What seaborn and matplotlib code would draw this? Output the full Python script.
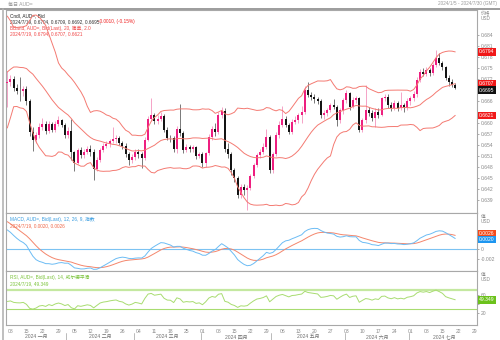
import numpy as np
import pandas as pd
import matplotlib
matplotlib.use("Agg")
import matplotlib.pyplot as plt
import matplotlib.transforms as mtransforms
import seaborn as sns

sns.set_theme(style="white")
plt.rcParams['font.family'] = ['Liberation Sans', 'Noto Sans CJK SC']

# Closes before the window (Nov 2023 - Jan 4 2024), only used to seed the indicators
warmup_close = [6505, 6430, 6410, 6372, 6360, 6370, 6525, 6500, 6483, 6545,
                6560, 6557, 6545, 6555, 6580, 6620, 6647, 6660, 6609, 6663,
                6612, 6565, 6555, 6588, 6566, 6570, 6572, 6685, 6712, 6702,
                6710, 6741, 6697, 6797, 6805, 6808, 6815, 6848, 6832, 6812,
                6812, 6738, 6705, 6708]

# Daily AUD= bid, 2024/1/5 - 2024/7/19, in pips (1e-4)
close_pips = [6712, 6720, 6695, 6688, 6686, 6692, 6660, 6575, 6555, 6567,
              6590, 6596, 6578, 6598, 6580, 6598, 6608, 6594, 6568, 6578,
              6520, 6492, 6526, 6514, 6522, 6530, 6520, 6475, 6500, 6526,
              6537, 6542, 6550, 6556, 6560, 6545, 6538, 6515, 6500, 6508,
              6522, 6515, 6505, 6555, 6612, 6622, 6605, 6612, 6620, 6580,
              6560, 6558, 6530, 6585, 6572, 6527, 6535, 6530, 6534, 6510,
              6515, 6490, 6518, 6563, 6585, 6576, 6622, 6632, 6530, 6515,
              6472, 6450, 6405, 6425, 6418, 6424, 6455, 6485, 6512, 6521,
              6535, 6562, 6472, 6515, 6567, 6595, 6612, 6594, 6576, 6603,
              6608, 6621, 6631, 6690, 6676, 6670, 6665, 6660, 6621, 6626,
              6635, 6649, 6645, 6608, 6635, 6662, 6681, 6644, 6662, 6668,
              6581, 6608, 6635, 6628, 6613, 6630, 6622, 6667, 6672, 6650,
              6640, 6654, 6640, 6648, 6640, 6660, 6667, 6678, 6717, 6740,
              6735, 6745, 6737, 6758, 6776, 6765, 6752, 6724, 6713, 6704,
              6695]
high_pips = [6742, 6732, 6728, 6706, 6726, 6702, 6700, 6665, 6590, 6575,
             6600, 6614, 6605, 6606, 6602, 6606, 6620, 6612, 6600, 6590,
             6610, 6525, 6532, 6535, 6530, 6537, 6540, 6528, 6508, 6532,
             6545, 6550, 6556, 6590, 6568, 6565, 6552, 6545, 6522, 6515,
             6528, 6530, 6520, 6562, 6620, 6668, 6628, 6622, 6630, 6625,
             6588, 6568, 6565, 6592, 6652, 6578, 6542, 6540, 6540, 6538,
             6522, 6520, 6522, 6570, 6592, 6600, 6630, 6645, 6640, 6545,
             6520, 6478, 6455, 6435, 6435, 6432, 6462, 6492, 6518, 6530,
             6545, 6585, 6568, 6522, 6575, 6605, 6646, 6618, 6600, 6610,
             6620, 6628, 6646, 6700, 6712, 6685, 6678, 6670, 6665, 6635,
             6642, 6655, 6665, 6650, 6642, 6668, 6690, 6685, 6670, 6675,
             6672, 6615, 6704, 6645, 6635, 6640, 6640, 6672, 6680, 6678,
             6658, 6662, 6660, 6685, 6655, 6668, 6675, 6686, 6725, 6748,
             6750, 6752, 6750, 6765, 6799, 6790, 6770, 6756, 6732, 6720,
             6709]
low_pips = [6645, 6700, 6688, 6680, 6660, 6675, 6650, 6565, 6525, 6545,
            6560, 6580, 6570, 6572, 6575, 6576, 6592, 6588, 6560, 6560,
            6500, 6470, 6488, 6505, 6505, 6515, 6510, 6445, 6468, 6495,
            6520, 6532, 6535, 6545, 6545, 6540, 6530, 6508, 6485, 6490,
            6500, 6505, 6478, 6500, 6550, 6605, 6598, 6598, 6605, 6575,
            6555, 6548, 6520, 6518, 6565, 6518, 6520, 6522, 6522, 6502,
            6505, 6480, 6480, 6512, 6555, 6565, 6570, 6615, 6520, 6505,
            6458, 6440, 6395, 6395, 6405, 6362, 6418, 6450, 6480, 6505,
            6515, 6530, 6465, 6465, 6510, 6560, 6590, 6588, 6570, 6570,
            6598, 6600, 6600, 6625, 6670, 6662, 6655, 6652, 6615, 6612,
            6620, 6630, 6638, 6592, 6600, 6625, 6655, 6635, 6640, 6655,
            6575, 6575, 6600, 6620, 6605, 6590, 6615, 6618, 6660, 6640,
            6632, 6635, 6632, 6635, 6630, 6635, 6650, 6660, 6672, 6712,
            6728, 6728, 6728, 6730, 6752, 6758, 6745, 6718, 6700, 6698,
            6692]

price_ticks = [0.639, 0.642, 0.645, 0.648, 0.651, 0.654, 0.657, 0.660,
               0.663, 0.666, 0.669, 0.672, 0.675, 0.678, 0.681, 0.684]
month_labels = ["2024 一月", "2024 二月", "2024 三月", "2024 四月",
                "2024 五月", "2024 六月", "2024 七月"]

# ---- series -------------------------------------------------------------
n_warm = len(warmup_close)
all_close = pd.Series(np.array(warmup_close + close_pips, dtype=float) / 1e4)
close = np.array(close_pips) / 1e4
high = np.array(high_pips) / 1e4
low = np.array(low_pips) / 1e4
open_ = np.r_[warmup_close[-1] / 1e4, close[:-1]]
n = len(close)
idx = np.arange(n)

mid = all_close.rolling(20).mean()
sd = all_close.rolling(20).std(ddof=0)
upper = (mid + 2 * sd).values[n_warm:]
lower = (mid - 2 * sd).values[n_warm:]
mid = mid.values[n_warm:]

ema12 = all_close.ewm(span=12, adjust=False).mean()
ema26 = all_close.ewm(span=26, adjust=False).mean()
macd_all = ema12 - ema26
signal_all = macd_all.ewm(span=9, adjust=False).mean()
macd = macd_all.values[n_warm:]
signal = signal_all.values[n_warm:]

delta = all_close.diff()
gain = delta.clip(lower=0).ewm(alpha=1 / 14, adjust=False).mean()
loss = (-delta.clip(upper=0)).ewm(alpha=1 / 14, adjust=False).mean()
rsi = (100 - 100 / (1 + gain / loss)).values[n_warm:]

days = pd.bdate_range("2024-01-05", "2024-07-30")
x_end = len(days) - 1

df = pd.DataFrame({"i": idx, "upper": upper, "mid": mid, "lower": lower,
                   "macd": macd, "signal": signal, "rsi": rsi})

# ---- figure -------------------------------------------------------------
W, H = 500, 340
fig = plt.figure(figsize=(W / 100, H / 100), dpi=100)
fig.patch.set_facecolor("white")


def rect(x0, y0, x1, y1):
    return [x0 / W, 1 - y1 / H, (x1 - x0) / W, (y1 - y0) / H]


ax = fig.add_axes(rect(6, 10, 477, 213))
axm = fig.add_axes(rect(6, 213, 477, 271), sharex=ax)
axr = fig.add_axes(rect(6, 271, 477, 325), sharex=ax)

spine_c = "#a8a8a8"
tick_c = "#8a8a8a"
for a in (ax, axm, axr):
    a.set_facecolor("white")
    for s in a.spines.values():
        s.set_color(spine_c)
        s.set_linewidth(0.8)
    a.yaxis.tick_right()
    a.tick_params(axis="y", labelsize=3.6, colors=tick_c, length=1.5,
                  width=0.5, pad=1)

up_c, dn_c = "#ee1f80", "#141414"
band_c = "#f47a72"

# candles
rising = close >= open_
colors = np.where(rising, up_c, dn_c)
wick_c = np.where(rising, "#f28ab8", "#555555")
ax.vlines(idx, low, high, colors=wick_c, linewidth=0.55, zorder=2)
body_lo = np.minimum(open_, close)
body_h = np.maximum(np.abs(close - open_), 0.00006)
ax.bar(idx, body_h, bottom=body_lo, width=0.62, color=colors,
       linewidth=0, zorder=3)

# Bollinger bands
for col in ("upper", "mid", "lower"):
    sns.lineplot(data=df, x="i", y=col, ax=ax, color=band_c, linewidth=0.7,
                 estimator=None, legend=False, zorder=4)

ax.set_xlim(-0.4, x_end - 0.2)
ax.set_ylim(0.63546, 0.69082)
ax.set_yticks(price_ticks)
# labels sitting under the value tags are hidden by them
ax.set_yticklabels(["" if v in (0.663, 0.669) else f"{v:.3f}"
                    for v in price_ticks])
ax.set_xlabel("")
ax.set_ylabel("")

# MACD
axm.axhline(0, color="#7cc3f2", linewidth=0.8, zorder=1)
sns.lineplot(data=df, x="i", y="signal", ax=axm, color="#f4866c",
             linewidth=0.7, estimator=None, legend=False)
sns.lineplot(data=df, x="i", y="macd", ax=axm, color="#6cbcf4",
             linewidth=0.7, estimator=None, legend=False)
axm.set_ylim(-0.0044, 0.0070)
axm.set_yticks([-0.002, 0])
axm.set_yticklabels(["-0.002", "0"])
axm.set_xlabel("")
axm.set_ylabel("")

# RSI
rsi_c = "#a8dc70"
axr.axhline(70, color="#c4e8a0", linewidth=1.6, zorder=1)
axr.axhline(30, color="#a8dc70", linewidth=0.8, zorder=1)
sns.lineplot(data=df, x="i", y="rsi", ax=axr, color=rsi_c, linewidth=0.7,
             estimator=None, legend=False)
axr.set_ylim(-5.6, 112)
axr.set_yticks([20, 40, 60])
axr.set_yticklabels(["20", "", "60"])
axr.set_xlabel("")
axr.set_ylabel("")

# x axis: Mondays and month blocks
mondays = [k for k, d in enumerate(days) if d.weekday() == 0]
for a in (ax, axm):
    a.tick_params(axis="x", bottom=False, labelbottom=False)
axr.set_xticks(mondays)
axr.set_xticklabels([f"{days[k].day:02d}" for k in mondays])
axr.tick_params(axis="x", labelsize=3.6, colors=tick_c, length=1.5,
                width=0.5, pad=1.5)
trans = mtransforms.blended_transform_factory(axr.transData, axr.transAxes)
month_start = [k for k in range(len(days))
               if k == 0 or days[k].month != days[k - 1].month]
bounds = month_start + [len(days)]
for m in range(len(month_start)):
    a0, a1 = bounds[m], bounds[m + 1]
    if m > 0:
        axr.plot([a0 - 0.5, a0 - 0.5], [-0.15, -0.3], transform=trans,
                 color="#b0b0b0", linewidth=0.6, clip_on=False)
    axr.text((a0 + a1 - 1) / 2, -0.215, month_labels[m], transform=trans,
             ha="center", va="center", fontsize=3.6, color="#707070")


# value tags on the right
def tag(a, y, text, fc, tc="white"):
    a.annotate(text, xy=(1.0, y), xycoords=("axes fraction", "data"),
               xytext=(1.5, 0), textcoords="offset points", ha="left",
               va="center", fontsize=3.6, color=tc, annotation_clip=False,
               zorder=10,
               bbox=dict(boxstyle="square,pad=0.25", fc=fc, ec="none"))


tag(ax, upper[-1], f"{upper[-1]:.4f}", "#f01818")
tag(ax, mid[-1], f"{mid[-1]:.4f}", "#f01818")
tag(ax, close[-1] - 0.0005, f"{close[-1]:.4f}", "#111111")
tag(ax, lower[-1], f"{lower[-1]:.4f}", "#f01818")
tag(axm, 0.0030, f"{signal[-1]:.4f}", "#f44a1a")
tag(axm, 0.0018, f"{macd[-1]:.4f}", "#1e96f0")
tag(axr, rsi[-1], f"{rsi[-1]:.3f}", "#6cc21c")

# panel captions
fs = 3.4
ax.text(0.008, 0.985, "Cndl, AUD=, Bid", transform=ax.transAxes, fontsize=fs,
        color="#222222", va="top")
ax.text(0.008, 0.955,
        f"2024/7/19, {open_[-1]:.4f}, {high[-1]:.4f}, {low[-1]:.4f}, {close[-1]:.4f},",
        transform=ax.transAxes, fontsize=fs, color="#333333", va="top")
ax.text(0.195, 0.955, "-0.0010, (-0.15%)", transform=ax.transAxes, fontsize=fs,
        color="#f02020", va="top")
ax.text(0.008, 0.925, "BBand, AUD=, Bid(Last), 20, 简单, 2.0",
        transform=ax.transAxes, fontsize=fs, color="#f04848", va="top")
ax.text(0.008, 0.895,
        f"2024/7/19, {upper[-1]:.4f}, {mid[-1]:.4f}, {lower[-1]:.4f}",
        transform=ax.transAxes, fontsize=fs, color="#f04848", va="top")
axm.text(0.008, 0.93, "MACD, AUD=, Bid(Last), 12, 26, 9, 指数",
         transform=axm.transAxes, fontsize=fs, color="#3a9de0", va="top")
axm.text(0.008, 0.82, f"2024/7/19, {macd[-1]:.4f}, {signal[-1]:.4f}",
         transform=axm.transAxes, fontsize=fs, color="#f06848", va="top")
axr.text(0.008, 0.93, "RSI, AUD=, Bid(Last), 14, 威尔德平滑",
         transform=axr.transAxes, fontsize=fs, color="#7cc43c", va="top")
axr.text(0.008, 0.81, f"2024/7/19, {rsi[-1]:.3f}",
         transform=axr.transAxes, fontsize=fs, color="#7cc43c", va="top")

# header
fig.text(8 / W, 1 - 4 / H, "每日 AUD=", fontsize=3.6, color="#9a9a9a",
         va="center")
fig.text(497 / W, 1 - 4 / H, "2024/1/5 - 2024/7/30 (GMT)", fontsize=3.4,
         color="#9a9a9a", va="center", ha="right")
fig.add_artist(plt.Line2D([0, 1], [1 - 8.5 / H] * 2, color="#9c9c9c",
                          linewidth=1.4))
fig.add_artist(plt.Line2D([3 / W] * 2, [0, 1 - 8.5 / H], color="#b4b4b4",
                          linewidth=1.2))
for y0, txt in ((16, "价格\nUSD"), (219, "值\nUSD"), (277, "值\nUSD")):
    fig.text(481 / W, 1 - y0 / H, txt, fontsize=3.4, color="#8a8a8a",
             va="center", linespacing=1.1)

fig.savefig("out.png", dpi=100)
